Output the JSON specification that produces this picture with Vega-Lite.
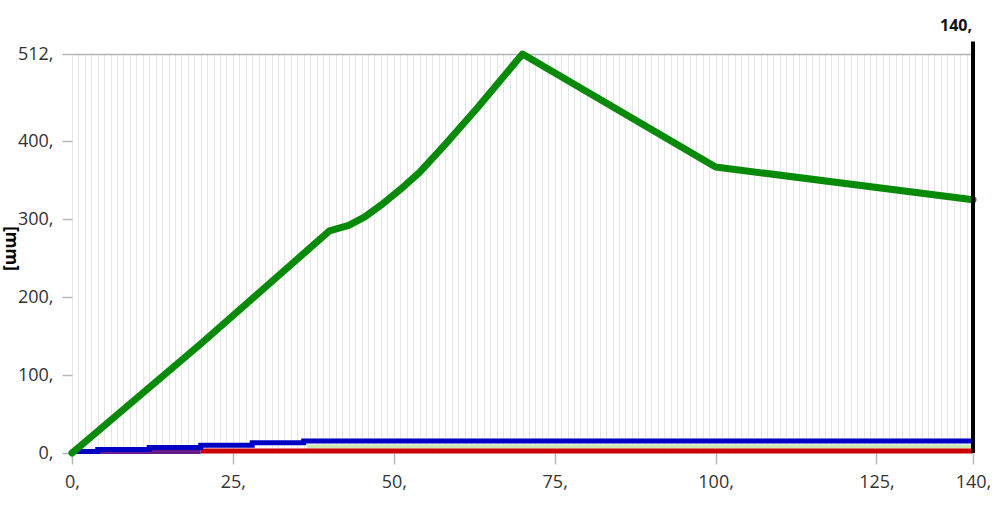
{
  "$schema": "https://vega.github.io/schema/vega-lite/v6.json",
  "width": 901,
  "height": 399,
  "autosize": {"type": "none"},
  "padding": {"left": 72, "top": 54, "right": 30, "bottom": 65},
  "background": "white",
  "config": {
    "view": {"stroke": null},
    "font": "Open Sans"
  },
  "datasets": {
    "series": [
      {"s": "green", "x": 0, "y": 0},
      {"s": "green", "x": 1, "y": 7},
      {"s": "green", "x": 20, "y": 140},
      {"s": "green", "x": 40, "y": 285},
      {"s": "green", "x": 43, "y": 292},
      {"s": "green", "x": 45.5, "y": 303},
      {"s": "green", "x": 48, "y": 318},
      {"s": "green", "x": 51, "y": 338},
      {"s": "green", "x": 54, "y": 360},
      {"s": "green", "x": 58, "y": 396},
      {"s": "green", "x": 63, "y": 443},
      {"s": "green", "x": 70, "y": 512},
      {"s": "green", "x": 100, "y": 367},
      {"s": "green", "x": 140, "y": 325},
      {"s": "blue", "x": 0, "y": 2},
      {"s": "blue", "x": 4, "y": 4.5},
      {"s": "blue", "x": 12, "y": 7},
      {"s": "blue", "x": 20, "y": 10},
      {"s": "blue", "x": 28, "y": 13},
      {"s": "blue", "x": 36, "y": 15.5},
      {"s": "blue", "x": 140, "y": 15.5},
      {"s": "red", "x": 20, "y": 2.5},
      {"s": "red", "x": 140, "y": 2.5},
      {"s": "purple", "x": 4, "y": 2},
      {"s": "purple", "x": 20, "y": 2},
      {"s": "pale", "x": 36.5, "y": 8.5},
      {"s": "pale", "x": 140, "y": 8.5}
    ],
    "marker": [
      {"x": 140, "y": 0, "y2": 528}
    ],
    "markerLabel": [
      {"x": 140, "y": 548, "label": "140,"}
    ]
  },
  "encoding": {
    "x": {
      "field": "x", "type": "quantitative",
      "scale": {"domain": [0, 140], "nice": false, "zero": false},
      "axis": {
        "title": null,
        "values": [0,1,2,3,4,5,6,7,8,9,10,11,12,13,14,15,16,17,18,19,20,21,22,23,24,25,26,27,28,29,30,31,32,33,34,35,36,37,38,39,40,41,42,43,44,45,46,47,48,49,50,51,52,53,54,55,56,57,58,59,60,61,62,63,64,65,66,67,68,69,70,71,72,73,74,75,76,77,78,79,80,81,82,83,84,85,86,87,88,89,90,91,92,93,94,95,96,97,98,99,100,101,102,103,104,105,106,107,108,109,110,111,112,113,114,115,116,117,118,119,120,121,122,123,124,125,126,127,128,129,130,131,132,133,134,135,136,137,138,139,140],
        "grid": true,
        "gridColor": "#e6e6e6",
        "gridWidth": 1,
        "domain": false,
        "tickColor": "#b8b8b8",
        "tickSize": 11,
        "tickWidth": 1.5,
        "tickOpacity": {"condition": {"test": "datum.value % 25 === 0 || datum.value === 140", "value": 1}, "value": 0},
        "labelExpr": "(datum.value % 25 === 0 || datum.value === 140) ? datum.label + ',' : ''",
        "labelOverlap": false,
        "labelFlush": false,
        "labelBound": false,
        "labelFontSize": 18,
        "labelColor": "#333333",
        "labelPadding": 9
      }
    },
    "y": {
      "field": "y", "type": "quantitative",
      "scale": {"domain": [0, 512], "nice": false},
      "axis": {
        "title": "[mm]",
        "titleAngle": 90,
        "titleFontWeight": "bold",
        "titleFontSize": 17,
        "titleColor": "#000000",
        "titleX": -62,
        "titleY": 194,
        "titleAlign": "center",
        "titleBaseline": "middle",
        "values": [0, 100, 200, 300, 400, 512],
        "labelExpr": "datum.label + ','",
        "grid": true,
        "gridColor": "#b4b4b4",
        "gridWidth": 1.5,
        "gridOpacity": {"condition": {"test": "datum.value === 512", "value": 1}, "value": 0},
        "domain": false,
        "tickColor": "#b8b8b8",
        "tickSize": 10,
        "tickWidth": 1.5,
        "labelFontSize": 18,
        "labelColor": "#333333",
        "labelPadding": 9
      }
    }
  },
  "layer": [
    {
      "data": {"name": "series"},
      "transform": [{"filter": "datum.s === 'pale'"}],
      "mark": {"type": "line", "color": "#c9e8b4", "strokeWidth": 4}
    },
    {
      "data": {"name": "series"},
      "transform": [{"filter": "datum.s === 'red'"}],
      "mark": {"type": "line", "color": "#cc0000", "strokeWidth": 5}
    },
    {
      "data": {"name": "series"},
      "transform": [{"filter": "datum.s === 'purple'"}],
      "mark": {"type": "line", "color": "#661a8c", "strokeWidth": 5}
    },
    {
      "data": {"name": "series"},
      "transform": [{"filter": "datum.s === 'blue'"}],
      "mark": {"type": "line", "color": "#0000c4", "strokeWidth": 5, "interpolate": "step-after"}
    },
    {
      "data": {"name": "series"},
      "transform": [{"filter": "datum.s === 'green'"}],
      "mark": {"type": "line", "color": "#078a07", "strokeWidth": 7, "strokeJoin": "round", "strokeCap": "round"}
    },
    {
      "data": {"name": "marker"},
      "mark": {"type": "rule", "color": "#000000", "strokeWidth": 4},
      "encoding": {"y2": {"field": "y2"}}
    },
    {
      "data": {"name": "markerLabel"},
      "mark": {"type": "text", "align": "right", "baseline": "middle", "dx": -1, "fontSize": 16, "fontWeight": "bold", "color": "#111111", "font": "Open Sans"},
      "encoding": {"text": {"field": "label"}}
    }
  ]
}
